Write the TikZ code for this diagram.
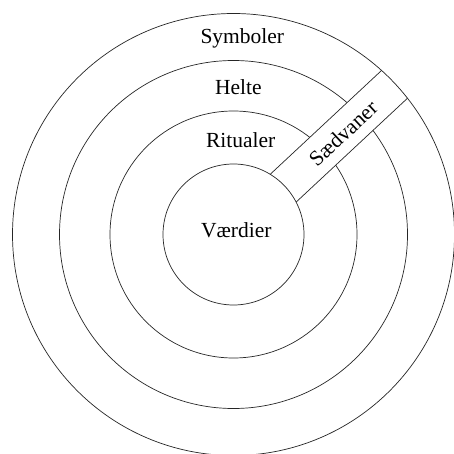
\documentclass[tikz,border=0pt]{standalone}
\usepackage{fontspec}
\setmainfont{Liberation Serif}
\begin{document}
\begin{tikzpicture}[x=1pt,y=1pt,
  ring/.style={circle,draw=black!85,line width=0.7pt,inner sep=0pt,outer sep=0pt},
  lbl/.style={font=\fontsize{21.5}{25}\selectfont,inner sep=0pt,anchor=base},
  bandline/.style={draw=black!85,line width=0.7pt}]
\useasboundingbox[fill=white] (0,-454) rectangle (453,0);
\coordinate (C) at (233.5,-234.5);
% middle rings (cut by the band)
\node[ring,minimum size=247pt] (ritualer) at (C) {};
\node[ring,minimum size=348pt] (helte) at (C) {};
% band
\begin{scope}[shift={(C)},rotate=43]
  \fill[white] (67,-19) rectangle (221,19);
  \coordinate (u1) at (67.9,19);
  \coordinate (u2) at (220.2,19);
  \coordinate (l1) at (67.9,-19);
  \coordinate (l2) at (220.2,-19);
  \node[font=\fontsize{21.5}{25}\selectfont,inner sep=0pt,rotate=43] (saedvaner) at (149,-1) {Sædvaner};
\end{scope}
\draw[bandline] (u1) -- (u2);
\draw[bandline] (l1) -- (l2);
% inner and outer rings
\node[ring,minimum size=141pt] (vaerdier) at (C) {};
\node[ring,minimum size=442pt] (symboler) at (C) {};
% labels
\node[lbl] (tsym) at (242.3,-43.5) {Symboler};
\node[lbl] (thel) at (238.3,-95) {Helte};
\node[lbl] (trit) at (240.7,-148) {Ritualer};
\node[lbl] (tvae) at (236.3,-237.5) {Værdier};
\end{tikzpicture}
\end{document}
